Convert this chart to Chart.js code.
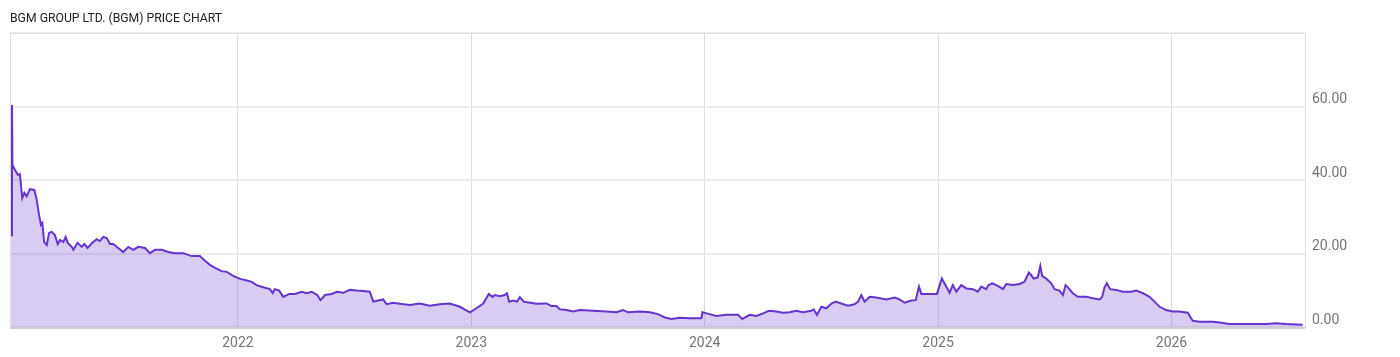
<!DOCTYPE html>
<html>
<head>
<meta charset="utf-8">
<title>BGM price chart</title>
<script src="https://cdn.jsdelivr.net/npm/chart.js@4.4.1/dist/chart.umd.min.js"></script>
<style>
    body { margin: 0; background: #fff; }
    #wrap { position: relative; width: 1400px; height: 357px; }
    #title {
        position: absolute; left: 10px; top: 10px;
        font: 13px Roboto, sans-serif; line-height: 15px; color: #222;
        transform: scaleX(0.94); transform-origin: left top; white-space: nowrap;
    }
</style>
</head>
<body>
<div id="wrap">
    <div id="title">BGM GROUP LTD. (BGM) PRICE CHART</div>
    <canvas id="priceChart"></canvas>
</div>
<script>
// decimal years
var years = [
    2021.028, 2021.032, 2021.034, 2021.045, 2021.057, 2021.066, 2021.076, 2021.085, 2021.095, 2021.109,
    2021.128, 2021.138, 2021.148, 2021.156, 2021.162, 2021.170, 2021.181, 2021.191, 2021.202, 2021.216,
    2021.228, 2021.238, 2021.252, 2021.262, 2021.271, 2021.288, 2021.295, 2021.313, 2021.331, 2021.342,
    2021.356, 2021.376, 2021.395, 2021.409, 2021.423, 2021.438, 2021.452, 2021.466, 2021.487, 2021.509,
    2021.530, 2021.552, 2021.573, 2021.602, 2021.623, 2021.645, 2021.673, 2021.702, 2021.730, 2021.766,
    2021.802, 2021.837, 2021.859, 2021.880, 2021.902, 2021.930, 2021.952, 2021.980, 2022.009, 2022.030,
    2022.059, 2022.080, 2022.108, 2022.137, 2022.149, 2022.158, 2022.177, 2022.194, 2022.220, 2022.244,
    2022.273, 2022.294, 2022.316, 2022.340, 2022.354, 2022.373, 2022.401, 2022.425, 2022.451, 2022.480,
    2022.508, 2022.537, 2022.565, 2022.580, 2022.601, 2022.622, 2022.637, 2022.665, 2022.694, 2022.737,
    2022.779, 2022.822, 2022.865, 2022.908, 2022.951, 2022.994, 2023.022, 2023.051, 2023.075, 2023.091,
    2023.101, 2023.122, 2023.143, 2023.153, 2023.162, 2023.179, 2023.196, 2023.208, 2023.225, 2023.251,
    2023.279, 2023.322, 2023.344, 2023.365, 2023.379, 2023.408, 2023.436, 2023.465, 2023.522, 2023.579,
    2023.622, 2023.650, 2023.672, 2023.722, 2023.765, 2023.800, 2023.829, 2023.857, 2023.893, 2023.936,
    2023.986, 2023.990, 2024.021, 2024.050, 2024.093, 2024.143, 2024.161, 2024.193, 2024.221, 2024.250,
    2024.275, 2024.307, 2024.335, 2024.364, 2024.393, 2024.421, 2024.457, 2024.467, 2024.481, 2024.500,
    2024.521, 2024.543, 2024.561, 2024.585, 2024.614, 2024.642, 2024.657, 2024.671, 2024.685, 2024.707,
    2024.735, 2024.778, 2024.814, 2024.835, 2024.857, 2024.885, 2024.904, 2024.918, 2024.928, 2024.964,
    2024.995, 2025.016, 2025.035, 2025.049, 2025.063, 2025.078, 2025.099, 2025.121, 2025.149, 2025.170,
    2025.185, 2025.206, 2025.216, 2025.232, 2025.256, 2025.278, 2025.292, 2025.320, 2025.349, 2025.370,
    2025.389, 2025.399, 2025.409, 2025.427, 2025.438, 2025.446, 2025.463, 2025.485, 2025.499, 2025.520,
    2025.535, 2025.546, 2025.560, 2025.577, 2025.599, 2025.635, 2025.663, 2025.692, 2025.703, 2025.713,
    2025.723, 2025.737, 2025.763, 2025.791, 2025.827, 2025.849, 2025.877, 2025.906, 2025.927, 2025.949,
    2025.977, 2026.006, 2026.034, 2026.070, 2026.080, 2026.091, 2026.120, 2026.177, 2026.206, 2026.248,
    2026.320, 2026.406, 2026.448, 2026.491, 2026.562
];
var prices = [
    25.0, 60.4, 44.1, 42.7, 41.4, 41.6, 35.1, 36.5, 35.6, 37.5,
    37.3, 34.6, 30.5, 27.8, 28.3, 23.1, 22.3, 25.6, 25.9, 25.0,
    22.6, 23.7, 23.1, 24.5, 22.9, 21.8, 21.0, 22.9, 21.8, 22.6,
    21.5, 22.9, 23.9, 23.4, 24.5, 24.2, 22.6, 22.6, 21.5, 20.4,
    21.8, 21.0, 21.8, 21.5, 20.1, 21.0, 21.0, 20.4, 20.1, 20.1,
    19.3, 19.3, 18.0, 16.9, 16.1, 15.2, 15.0, 13.9, 13.1, 12.8,
    12.3, 11.4, 10.8, 10.3, 9.2, 10.3, 9.9, 8.2, 9.0, 9.0,
    9.6, 9.2, 9.6, 8.7, 7.3, 8.7, 9.0, 9.6, 9.3, 10.1,
    9.9, 9.8, 9.6, 6.9, 7.2, 7.5, 6.2, 6.6, 6.3, 6.0,
    6.4, 5.8, 6.2, 6.4, 5.5, 4.0, 5.1, 6.4, 9.0, 8.2,
    8.7, 8.4, 8.7, 9.2, 6.9, 7.2, 6.9, 8.1, 6.9, 6.6,
    6.3, 6.4, 5.7, 5.7, 4.8, 4.6, 4.2, 4.6, 4.4, 4.2,
    4.0, 4.6, 4.0, 4.2, 4.0, 3.5, 2.6, 2.2, 2.5, 2.4,
    2.4, 4.0, 3.5, 3.0, 3.3, 3.3, 2.2, 3.3, 3.0, 3.7,
    4.4, 4.2, 3.9, 4.0, 4.4, 4.0, 4.4, 4.8, 3.3, 5.5,
    5.1, 6.4, 6.9, 6.4, 5.8, 6.2, 6.9, 8.7, 6.9, 8.2,
    8.0, 7.5, 8.0, 7.5, 6.6, 7.2, 7.3, 11.0, 9.0, 9.0,
    9.0, 13.2, 11.0, 9.3, 11.4, 9.6, 11.4, 10.5, 10.3, 9.6,
    11.0, 10.3, 11.4, 11.9, 11.2, 10.3, 11.7, 11.4, 11.7, 12.3,
    14.8, 14.1, 13.2, 13.5, 16.6, 13.9, 13.2, 11.9, 10.3, 9.9,
    8.7, 11.4, 10.5, 9.2, 8.2, 8.2, 7.8, 7.5, 8.2, 10.8,
    11.9, 10.3, 10.1, 9.6, 9.6, 9.9, 9.2, 8.2, 6.9, 5.5,
    4.6, 4.2, 4.2, 3.9, 2.8, 1.7, 1.4, 1.4, 1.2, 0.8,
    0.8, 0.8, 1.0, 0.8, 0.6
];
var yearTicks = [2022, 2023, 2024, 2025, 2026];
var priceTicks = [0, 20, 40, 60, 80];

var points = years.map(function (x, i) { return { x: x, y: prices[i] }; });

// light frame round the plot area
var frame = {
    id: 'frame',
    afterDraw: function (chart) {
        var a = chart.chartArea, ctx = chart.ctx;
        ctx.save();
        ctx.strokeStyle = '#dcdcdc';
        ctx.lineWidth = 1;
        ctx.beginPath();
        ctx.moveTo(a.left + 0.5, a.bottom);
        ctx.lineTo(a.left + 0.5, a.top + 0.5);
        ctx.lineTo(a.right, a.top + 0.5);
        ctx.stroke();
        ctx.strokeStyle = '#cfcfcf';
        ctx.lineWidth = 2;
        ctx.beginPath();
        ctx.moveTo(a.left, a.bottom + 1);
        ctx.lineTo(a.right, a.bottom + 1);
        ctx.stroke();
        ctx.restore();
    }
};

new Chart(document.getElementById('priceChart'), {
    type: 'line',
    data: {
        datasets: [{
            data: points,
            borderColor: '#6633cc',
            backgroundColor: 'rgba(102, 51, 204, 0.25)',
            borderWidth: 2,
            fill: 'origin',
            pointRadius: 0,
            tension: 0
        }]
    },
    options: {
        responsive: true,
        maintainAspectRatio: false,
        animation: false,
        layout: { padding: { top: 33, left: 10, right: 0, bottom: 0 } },
        plugins: { legend: { display: false }, tooltip: { enabled: false } },
        scales: {
            x: {
                type: 'linear',
                min: 2021.0235,
                max: 2026.572,
                afterBuildTicks: function (s) { s.ticks = yearTicks.map(function (v) { return { value: v }; }); },
                afterFit: function (s) { s.height = 30; },
                grid: { color: '#dddddd', lineWidth: 1, drawTicks: false },
                border: { display: false },
                ticks: {
                    padding: 8,
                    color: '#757575',
                    font: { family: 'Roboto', size: 14 },
                    maxRotation: 0,
                    callback: function (v) { return String(v); }
                }
            },
            y: {
                position: 'right',
                min: 0,
                max: 80,
                afterBuildTicks: function (s) { s.ticks = priceTicks.map(function (v) { return { value: v }; }); },
                afterFit: function (s) { s.width = 95; },
                grid: { color: '#ececec', lineWidth: 2, drawTicks: false },
                border: { display: true, color: '#dcdcdc', width: 1 },
                ticks: {
                    padding: 7,
                    labelOffset: -7,
                    color: '#757575',
                    font: { family: 'Roboto', size: 14 },
                    callback: function (v) { return v === 80 ? '' : v.toFixed(2); }
                }
            }
        }
    },
    plugins: [frame]
});
</script>
</body>
</html>
